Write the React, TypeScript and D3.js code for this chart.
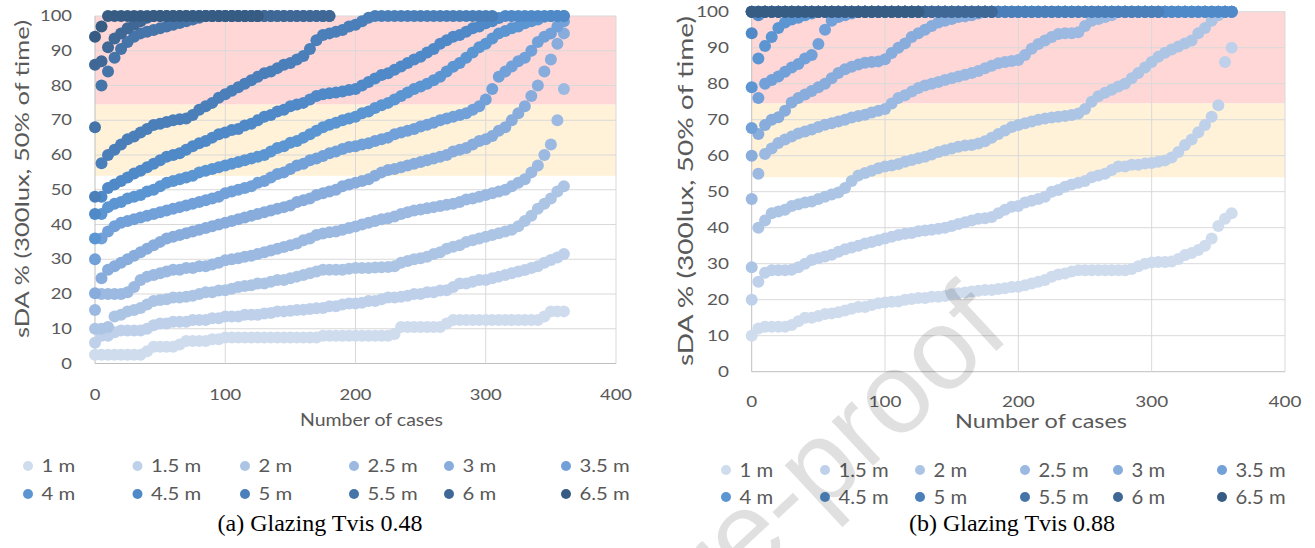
import React from "react";
import * as d3 from "d3";

// ---------- data ----------
const depthLabels = ["1 m", "1.5 m", "2 m", "2.5 m", "3 m", "3.5 m", "4 m", "4.5 m", "5 m", "5.5 m", "6 m", "6.5 m"];
const caseStep = 5; // number of cases between two stored (sorted) values
const xTickValues = [0, 100, 200, 300, 400];
const yTickValues = [0, 10, 20, 30, 40, 50, 60, 70, 80, 90, 100];
const redZone = [74.5, 100];
const yellowZone = [54, 74.5];

// (a) Glazing Tvis 0.48  — sDA % of sorted cases, one value every 5 cases
const a1m = [2.5,2.5,2.5,2.5,2.5,2.5,2.5,2.5,3.5,4.8, 4.8,4.8,4.8,5.5,6.5,6.5,6.5,6.5,7,7, 7.5,7.5,7.5,7.5,7.5,7.5,7.5,7.5,7.5,7.5, 7.5,7.5,7.5,7.5,7.5,8,8,8,8,8, 8,8,8,8,8,8,8.5,10.5,10.5,10.5, 10.5,10.5,10.5,10.5,11.5,12.5,12.5,12.5,12.5,12.5, 12.5,12.5,12.5,12.5,12.5,12.5,12.5,12.5,12.5,13.5, 15,15,15];
const a15m = [6,8,8,9,9.5,9.5,9.5,9.5,10,11, 11.5,11.5,12,12,12,12.5,12.5,12.5,13,13, 13.5,13.5,13.5,14,14,14,14.4,14.5,15,15, 15.2,15.4,15.5,15.7,15.9,16,16.5,16.5,17,17.3, 17.3,17.5,18,18,18.5,19,19,19.2,19.5,20, 20,20.5,20.5,21,21.1,22,23,23,23.5,24, 24,24.5,25,25.5,26,26.5,26.9,27.5,28,29, 29.8,30.5,31.5];
const a2m = [10,10,10.5,13.5,14,15,15.4,16,17,18, 18.3,18.5,19,19,19.2,19.5,20,20.5,20.5,21, 21.1,21.5,22,22.3,22.5,23,23,23.5,24,24, 24.5,25,25.5,26,26.5,27,27,27,27,27.3, 27.5,27.5,27.5,27.6,27.7,27.8,28,29,29.5,30, 30.3,30.7,31.5,32,33,33.6,34,35,35.5,36, 36.5,37,37.5,38,38.5,39.5,41,42.5,44.5,46, 47.5,49.5,51];
const a25m = [15.4,20,20,20,20,20.5,22,24,25,25.5, 26,26.5,27,27,27.5,27.5,28,28,28.5,29, 29.7,30,30.3,30.7,31,31.5,32,32.5,33,33.5, 34,34.5,35.5,36,37,37.4,37.8,38,38.5,39, 39.4,40,40.5,41,41.5,41.8,42.3,43,43.5,44, 44.3,44.7,45,45.3,45.7,46,46.5,47.2,47.5,48, 48.5,49,49.5,50,51,52,53,55,57,60, 63,70,79];
const a3m = [20.2,24.5,27,28,29,30,31,32,33,34, 35,36,36.5,37,37.5,38,38.5,39,39.5,40, 40.5,41,41.5,42,42.5,43,43.5,44,44.5,45, 45.5,46.5,47,47.5,48.5,49,49.5,50,51,51.5, 52,52.5,53,54,55,55.7,56,56.5,57,57.5, 58,58.5,59,59.5,60,61,61.5,62,63,64, 64.5,65.5,67,68,70,72,74,77,80,84, 87.5,92,95];
const a35m = [30,36,38,39.5,40.5,41,41.5,42,42.5,43, 43.5,44,44.5,45,45.5,46,46.5,47,47.5,48, 49,49.5,50,50.5,51,52,52.5,53.5,54.5,55, 56,57,57.5,58.5,59,59.7,60.5,61,61.7,62.3, 62.5,63,63.4,64,64.5,65,66,66.5,67,67.5, 68.2,68.7,69.3,70,70.5,71,71.5,72,73,74, 76,79,82.5,84,85.5,87,88,90,92.5,94, 95,97,98.5];
const a4m = [36,43,45,46,46.5,47.5,48,48.5,49.5,50, 51,52,52.5,53,53.5,54,55,55.5,56,56.5, 57,57.5,58,58.5,59,59.5,60,61,62,62.5, 63.5,64,65,66,67,68,68.7,69.3,70,70.5, 71,72,72.5,73.5,74.3,75,76,77,78,79, 79.7,80.5,81.5,82.5,84,85.4,86.5,88,89.5,91, 92,93.5,95,95.7,96.5,97,97.9,98.5,99,99.8, 100,100,100];
const a45m = [43,48,50.5,51.5,52.5,53.5,54.7,55.5,56.5,57.5, 58.5,59.5,60,60.5,61.5,62.5,63.4,64,65,66, 66.5,67.2,67.5,68.5,69,70,71,71.5,72.5,73, 74,74.5,75,76,77,77.5,77.8,78,78.3,78.7, 79,80,81,82,83,83.5,84.5,85.5,86.5,87.5, 88.3,89.5,90.5,92,93,94,94.5,95.5,96.5,97, 97.9,98.5,99.4,100,100,100,100,100,100,100, 100,100,100];
const a5m = [48,57.6,60,61.5,63,64.5,65.3,66.5,67.5,68.6, 69,69.5,70,70.3,70.5,71.5,73,74,75,76.5, 77.5,78.5,79.5,80.5,81.5,82.5,83.5,84,85,86, 86.5,87.5,88.5,90.5,93,94.5,95,95.5,96,97, 97.5,98.5,99.5,100,100,100,100,100,100,100, 100,100,100,100,100,100,100,100,100,100, 100,100];
const a55m = [68,80,84,88,90.5,92.5,94,95,95.5,96, 96.5,97,97.5,98,98.5,99,99.5,100,100,100, 100,100,100,100,100,100,100,100,100,100, 100,100,100,100,100,100,100];
const a6m = [86,87,91,93.5,95,96.5,97.5,98.5,99.5,100, 100,100,100,100,100,100,100,100,100,100, 100,100,100,100,100,100,100,100,100,100, 100,100,100,100,100,100,100];
const a65m = [94,97,100,100,100,100,100,100,100,100, 100,100,100,100,100,100,100,100,100,100, 100,100,100,100,100,100];

// (b) Glazing Tvis 0.88
const b1m = [10,12,12.5,12.5,12.5,12.5,13,14,15,15, 15.5,16,16.2,16.5,17,17.5,18,18,18.5,19, 19.2,19.4,19.5,20,20.2,20.5,20.5,20.8,20.8,21, 21.5,21.8,22,22.3,22.5,22.7,22.7,23,23.2,23.5, 23.6,24,24.5,25,25.5,26.4,27,27.3,27.8,28.2, 28.2,28.2,28.2,28.2,28.2,28.2,28.2,28.5,29.3,30, 30.3,30.5,30.5,30.6,31.3,32.4,33,33.8,35,37, 40.5,42.5,44];
const b15m = [20,25,27.5,28.2,28.2,28.2,28.3,29,30,31, 31.5,32,32.5,33.3,34,34.5,35,35.6,36,36.5, 37,37.5,38,38.3,38.5,39,39.2,39.4,39.7,40, 40.5,41,41.5,42,42.5,42.6,43,44,45,45.8, 46,47,47.5,48,48.6,50,50.5,51.4,52,52.5, 53,54,54.5,55,56,57,57,57.5,57.5,57.8, 58,58.3,58.7,59.5,61,63,64.5,66.5,68.5,70.8, 74,86,90];
const b2m = [29,40,42,44,44.5,45,46,46.5,47,47.3, 48,48.6,49.2,49.8,51,53,54.5,55.2,55.8,56.5, 57,57.3,57.7,58.3,58.8,59.3,59.7,60.3,61,61.5, 62,62.5,62.8,63,63.4,64,65,66,67,68, 68.5,69,69.5,70,70.3,70.6,70.8,71,71.3,71.7, 73,75,76.5,77.5,78.3,79.2,80,81.5,83,84.5, 86,87.5,88.6,89.5,90.3,91.2,92,94,95.5,97.5, 99,100,100];
const b25m = [48,55,60.5,62,63.5,64.5,65.3,66.2,66.7,67.3, 68,68.6,69,69.5,70,70.6,71,71.4,72,72.5, 73,74.5,76,76.8,77.8,78.8,79.5,80,80.5,81, 81.5,82,82.5,83,83.5,84.3,85,85.7,86,86.3, 86.6,88,89.7,91,92,93,93.8,94,94,94.3, 96,97.5,98,98.5,99,100,100,100,100,100, 100,100,100,100,100,100,100,100,100,100, 100,100,100];
const b3m = [60,66,68.5,70,70.7,72.5,74.8,76,77,78, 79,80,81.5,83,84,84.7,85.3,85.8,86,86.2, 86.8,88.5,90,91.2,93,94,95,96,97,97.5, 98,98.5,98.7,99,99.5,100,100,100,100,100, 100,100,100,100,100,100,100,100,100,100, 100,100,100,100,100,100,100,100,100,100, 100,100,100,100,100,100,100,100,100,100, 100,100,100];
const b35m = [67.7,76,80,81,82,83.3,84.5,85.5,87,88, 91,95,97.5,98.5,99,99.5,100,100,100,100, 100,100,100,100,100,100,100,100,100,100, 100,100,100,100,100,100,100,100,100,100, 100,100,100,100,100,100,100,100,100,100, 100,100,100,100,100,100,100,100,100,100, 100,100,100,100,100,100,100,100,100,100, 100,100,100];
const b4m = [79,87,90.5,93,95.5,97,97.8,98.3,99,99.5, 100,100,100,100,100,100,100,100,100,100, 100,100,100,100,100,100,100,100,100,100, 100,100,100,100,100,100,100,100,100,100, 100,100,100,100,100,100,100,100,100,100, 100,100,100,100,100,100,100,100,100,100, 100,100,100,100,100,100,100,100,100,100, 100,100,100];
const b45m = [94,99,100,100,100,100,100,100,100,100, 100,100,100,100,100,100,100,100,100,100, 100,100,100,100,100,100,100,100,100,100, 100,100,100,100,100,100,100,100,100,100, 100,100,100,100,100,100,100,100,100,100, 100,100,100,100,100,100,100,100,100,100, 100,100,100,100,100,100,100,100,100,100, 100,100,100];
const b5m = [100,100,100,100,100,100,100,100,100,100, 100,100,100,100,100,100,100,100,100,100, 100,100,100,100,100,100,100,100,100,100, 100,100,100,100,100,100,100,100,100,100, 100,100,100,100,100,100,100,100,100,100, 100,100,100,100,100,100,100,100,100,100, 100,100];
const b55m = [100,100,100,100,100,100,100,100,100,100, 100,100,100,100,100,100,100,100,100,100, 100,100,100,100,100,100,100,100,100,100, 100,100,100,100,100,100,100];
const b6m = [100,100,100,100,100,100,100,100,100,100, 100,100,100,100,100,100,100,100,100,100, 100,100,100,100,100,100,100,100,100,100, 100,100,100,100,100,100,100];
const b65m = [100,100,100,100,100,100,100,100,100,100, 100,100,100,100,100,100,100,100,100,100, 100,100,100,100,100,100];

const seriesA = [a1m, a15m, a2m, a25m, a3m, a35m, a4m, a45m, a5m, a55m, a6m, a65m];
const seriesB = [b1m, b15m, b2m, b25m, b3m, b35m, b4m, b45m, b5m, b55m, b6m, b65m];

// ---------- styles ----------
const depthColors = ["#cfdcee", "#bfd1ea", "#adc5e5", "#9bb9e1", "#88addc", "#72a1d9", "#5b95d2", "#5089c7", "#4a7fb9", "#4574a9", "#3f6897", "#375c84"];
const FONT = "Lato, 'Open Sans', sans-serif";
const GREY = "#595959";

type Cfg = {
  x0: number; x1: number; yTop: number; yBot: number;
  tickFont: number; tickSx: number; yTickRight: number; xTickBase: number;
  yTitle: { x: number; y: number; len: number; size: number };
  xTitle: { x: number; y: number; len: number; size: number };
  legendCols: number[]; legendRows: number[]; legendFont: number; legendSx: number;
  caption: { x: number; y: number; text: string };
};

const cfgA: Cfg = {
  x0: 95, x1: 616, yTop: 16, yBot: 363.5,
  tickFont: 14.5, tickSx: 1.27, yTickRight: 72, xTickBase: 400,
  yTitle: { x: 29, y: 179, len: 318, size: 19 },
  xTitle: { x: 371.5, y: 426, len: 143, size: 18 },
  legendCols: [28, 137.5, 245, 354, 449, 566], legendRows: [466, 494], legendFont: 17.5, legendSx: 1.16,
  caption: { x: 320, y: 531, text: "(a) Glazing Tvis 0.48" },
};
const cfgB: Cfg = {
  x0: 751.7, x1: 1285, yTop: 11.7, yBot: 371.7,
  tickFont: 15.5, tickSx: 1.22, yTickRight: 729, xTickBase: 407,
  yTitle: { x: 693, y: 191, len: 350, size: 21 },
  xTitle: { x: 1041, y: 428, len: 172, size: 20 },
  legendCols: [726, 825, 920, 1025, 1118, 1222], legendRows: [470, 497], legendFont: 18.4, legendSx: 1.1,
  caption: { x: 1012, y: 531, text: "(b) Glazing Tvis 0.88" },
};

function SText({ x, y, sx, size, anchor, children, fill = GREY }: any) {
  return (
    <text transform={`translate(${x},${y}) scale(${sx},1)`} textAnchor={anchor} fontSize={size} fontFamily={FONT} fill={fill}>
      {children}
    </text>
  );
}

function Panel({ data, cfg }: { data: number[][]; cfg: Cfg }) {
  const x = d3.scaleLinear().domain([0, 400]).range([cfg.x0, cfg.x1]);
  const y = d3.scaleLinear().domain([0, 100]).range([cfg.yBot, cfg.yTop]);
  const w = x(400) - x(0);
  return (
    <g>
      <rect x={x(0)} y={y(redZone[1])} width={w} height={y(redZone[0]) - y(redZone[1])} fill="#ffd7d7" />
      <rect x={x(0)} y={y(yellowZone[1])} width={w} height={y(yellowZone[0]) - y(yellowZone[1])} fill="#fff2d8" />
      {yTickValues.map((t) => (
        <line key={"h" + t} x1={x(0)} x2={x(400)} y1={y(t)} y2={y(t)} stroke={t === 0 ? "#bfbfbf" : "#d9d9d9"} strokeWidth={1} />
      ))}
      {xTickValues.map((t) => (
        <line key={"v" + t} x1={x(t)} x2={x(t)} y1={y(0)} y2={y(100)} stroke={t === 0 ? "#bfbfbf" : "#d9d9d9"} strokeWidth={1} />
      ))}
      {data.map((vals, si) => (
        <g key={"s" + si} fill={depthColors[si]}>
          {vals.map((v, j) => (
            <circle key={j} cx={x(j * caseStep)} cy={y(v)} r={6} />
          ))}
        </g>
      ))}
      {yTickValues.map((t) => (
        <SText key={"yl" + t} x={cfg.yTickRight} y={y(t) + cfg.tickFont * 0.36} sx={cfg.tickSx} size={cfg.tickFont} anchor="end">
          {t}
        </SText>
      ))}
      {xTickValues.map((t) => (
        <SText key={"xl" + t} x={x(t)} y={cfg.xTickBase} sx={cfg.tickSx} size={cfg.tickFont} anchor="middle">
          {t}
        </SText>
      ))}
      <text
        transform={`translate(${cfg.yTitle.x},${cfg.yTitle.y}) rotate(-90)`}
        textAnchor="middle" fontSize={cfg.yTitle.size} fontFamily={FONT} fill={GREY}
        textLength={cfg.yTitle.len} lengthAdjust="spacingAndGlyphs"
      >
        sDA % (300lux, 50% of time)
      </text>
      <text
        x={cfg.xTitle.x - cfg.xTitle.len / 2} y={cfg.xTitle.y}
        fontSize={cfg.xTitle.size} fontFamily={FONT} fill={GREY}
        textLength={cfg.xTitle.len} lengthAdjust="spacingAndGlyphs"
      >
        Number of cases
      </text>
      {depthLabels.map((lab, i) => {
        const cx = cfg.legendCols[i % 6];
        const cy = cfg.legendRows[Math.floor(i / 6)];
        return (
          <g key={"lg" + i}>
            <circle cx={cx} cy={cy} r={5} fill={depthColors[i]} />
            <SText x={cx + 13.5} y={cy + cfg.legendFont * 0.36} sx={cfg.legendSx} size={cfg.legendFont} anchor="start">
              {lab}
            </SText>
          </g>
        );
      })}
      <text x={cfg.caption.x} y={cfg.caption.y} textAnchor="middle" fontSize={24} fontFamily="'Liberation Serif', 'Times New Roman', serif" fill="#000">
        {cfg.caption.text}
      </text>
    </g>
  );
}

export default function App() {
  const wmSize = 115;
  return (
    <svg width={1315} height={548} style={{ position: "absolute", left: 0, top: 0, background: "#fff" }}>
      <rect x={0} y={0} width={1315} height={548} fill="#fff" />
      <Panel data={seriesA} cfg={cfgA} />
      <Panel data={seriesB} cfg={cfgB} />
      <g transform="translate(945,358) rotate(-43)" pointerEvents="none">
        <text x={-7.169 * wmSize} y={0.26 * wmSize} fontSize={wmSize} fontFamily="'Liberation Sans', Arial, sans-serif" fill="#000" fillOpacity={0.12}>
          Journal Pre-proof
        </text>
      </g>
    </svg>
  );
}
